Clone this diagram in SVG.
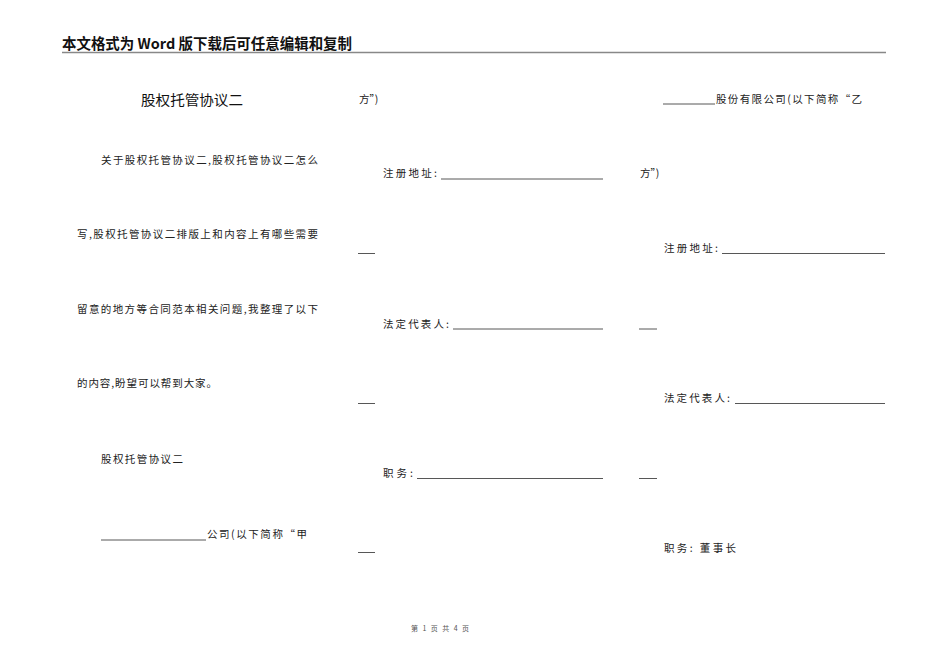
<svg xmlns="http://www.w3.org/2000/svg" width="950" height="672" viewBox="0 0 950 672">
<style>
.h{font-family:"Noto Sans CJK SC","Liberation Sans",sans-serif;font-size:14.5px;font-weight:bold;fill:#111}
.t{font-family:"Noto Sans CJK SC","Liberation Sans",sans-serif;font-size:14px;fill:#111}
.b{font-family:"Noto Sans CJK SC","Liberation Serif",serif;font-size:10.5px;fill:#222}
.f{font-family:"Noto Sans CJK SC","Liberation Sans",sans-serif;font-size:7px;fill:#555}
.u{stroke:#444;stroke-width:0.9;fill:none}
</style>
<rect width="950" height="672" fill="#fff"/>
<g id="header">
<text class="h" x="62" y="49" textLength="290" lengthAdjust="spacingAndGlyphs">本文格式为 Word 版下载后可任意编辑和复制</text>
<line x1="62" y1="52.5" x2="886" y2="52.5" stroke="#888" stroke-width="1.5"/>
</g>
<g id="column1">
<text class="t" x="141" y="105" textLength="102" lengthAdjust="spacingAndGlyphs">股权托管协议二</text>
<text class="b" x="101" y="164" textLength="217" lengthAdjust="spacing">关于股权托管协议二,股权托管协议二怎么</text>
<text class="b" x="77" y="238" textLength="241" lengthAdjust="spacing">写,股权托管协议二排版上和内容上有哪些需要</text>
<text class="b" x="77" y="313" textLength="241" lengthAdjust="spacing">留意的地方等合同范本相关问题,我整理了以下</text>
<text class="b" x="77" y="387" textLength="140" lengthAdjust="spacing">的内容,盼望可以帮到大家。</text>
<text class="b" x="101" y="463" textLength="82" lengthAdjust="spacing">股权托管协议二</text>
<line class="u" x1="101" y1="540" x2="206" y2="540"/>
<text class="b" x="207" y="538" textLength="100" lengthAdjust="spacing">公司(以下简称“甲</text>
</g>
<g id="column2">
<text class="b" x="359" y="103">方”)</text>
<text class="b" x="383" y="177" textLength="54" lengthAdjust="spacing">注册地址:</text>
<line class="u" x1="441" y1="179" x2="603" y2="179"/>
<line class="u" x1="358" y1="253.5" x2="375" y2="253.5"/>
<text class="b" x="383" y="328" textLength="66" lengthAdjust="spacing">法定代表人:</text>
<line class="u" x1="453" y1="329" x2="603" y2="329"/>
<line class="u" x1="358" y1="403.5" x2="375" y2="403.5"/>
<text class="b" x="383" y="477" textLength="30" lengthAdjust="spacing">职务:</text>
<line class="u" x1="417" y1="478.5" x2="603" y2="478.5"/>
<line class="u" x1="358" y1="552.5" x2="375" y2="552.5"/>
</g>
<g id="column3">
<line class="u" x1="663" y1="104" x2="715" y2="104"/>
<text class="b" x="716" y="103" textLength="146" lengthAdjust="spacing">股份有限公司(以下简称“乙</text>
<text class="b" x="640" y="177">方”)</text>
<text class="b" x="664" y="252" textLength="54" lengthAdjust="spacing">注册地址:</text>
<line class="u" x1="722" y1="253.5" x2="885" y2="253.5"/>
<line class="u" x1="639" y1="329" x2="657" y2="329"/>
<text class="b" x="664" y="402" textLength="66" lengthAdjust="spacing">法定代表人:</text>
<line class="u" x1="735" y1="403.5" x2="885" y2="403.5"/>
<line class="u" x1="639" y1="478.5" x2="657" y2="478.5"/>
<text class="b" x="664" y="552" textLength="72" lengthAdjust="spacing">职务: 董事长</text>
</g>
<g id="footer">
<text class="f" x="411" y="631" textLength="58" lengthAdjust="spacing">第 1 页 共 4 页</text>
</g>
</svg>
